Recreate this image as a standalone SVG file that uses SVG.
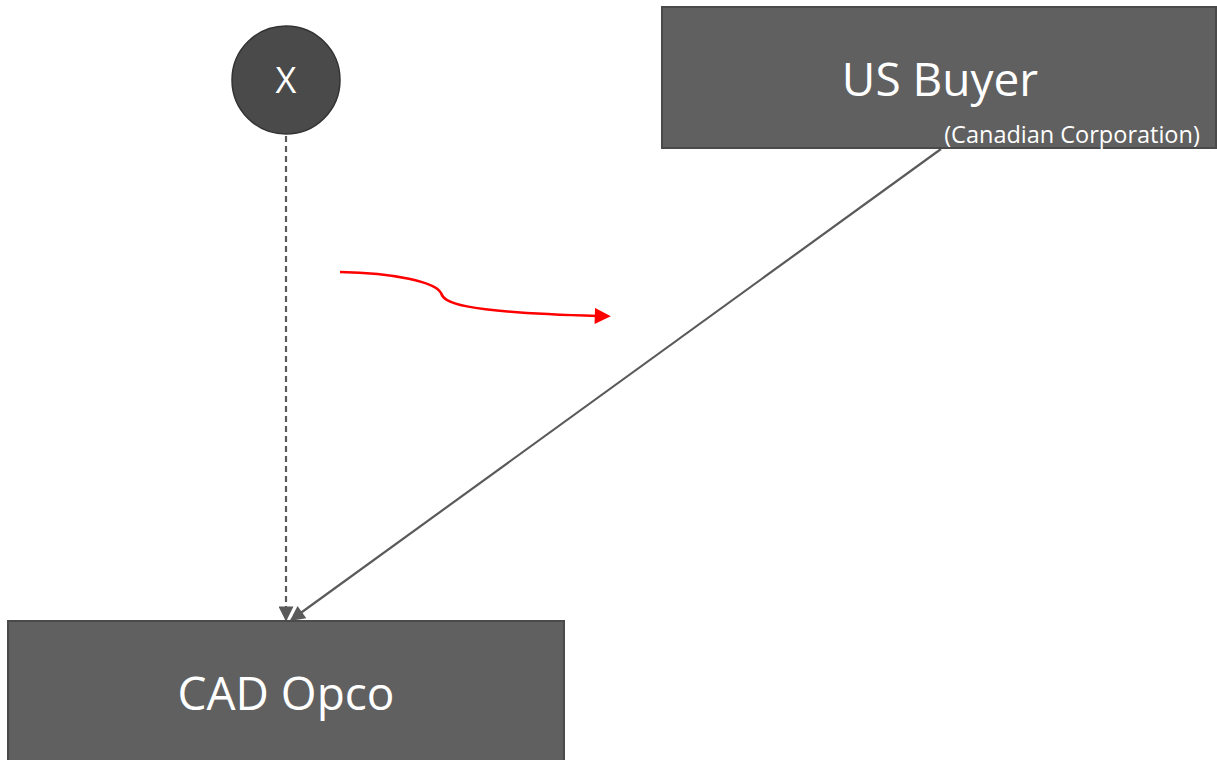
<svg xmlns="http://www.w3.org/2000/svg" width="1217" height="760" viewBox="0 0 1217 760">
  <style>
    .box { fill: #606060; stroke: #4a4a4a; stroke-width: 2; }
    .lbl { font-family: "Open Sans", "Noto Sans", sans-serif; fill: #ffffff; text-anchor: middle; }
    .conn { fill: none; stroke: #5a5a5a; stroke-width: 2.2; }
  </style>
  <defs>
    <marker id="arrowGreyL" viewBox="0 0 10 10" refX="9" refY="5" markerWidth="17" markerHeight="15" markerUnits="userSpaceOnUse" orient="auto">
      <path d="M0,0 L10,5 L0,10 z" fill="#5a5a5a"/>
    </marker>
    <marker id="arrowRed" viewBox="0 0 10 10" refX="2" refY="5" markerWidth="17" markerHeight="16" markerUnits="userSpaceOnUse" orient="auto">
      <path d="M0,0 L10,5 L0,10 z" fill="#ff0000"/>
    </marker>
  </defs>

  <rect width="1217" height="760" fill="#ffffff"/>

  <g id="connectors">
    <!-- dashed ownership line from X down to CAD Opco -->
    <line class="conn" x1="286" y1="136" x2="286" y2="620" stroke-dasharray="6,4" marker-end="url(#arrowGreyL)"/>
    <!-- US Buyer to CAD Opco -->
    <line class="conn" x1="941" y1="149" x2="291" y2="620" marker-end="url(#arrowGreyL)"/>
    <!-- red movement arrow -->
    <path d="M340,272 C395,273 435,282 441,293 C444,302 455,312 598,316" fill="none" stroke="#ff0000" stroke-width="2.5" marker-end="url(#arrowRed)"/>
  </g>

  <g id="node-x">
    <circle cx="286" cy="80" r="54" fill="#4a4a4a" stroke="#333333" stroke-width="1.5"/>
    <text class="lbl" x="286" y="93" font-size="36">X</text>
  </g>

  <g id="node-us-buyer">
    <rect class="box" x="662" y="7" width="554" height="141"/>
    <text class="lbl" x="940" y="96" font-size="46">US Buyer</text>
    <text class="lbl" x="1072" y="143" font-size="23.5">(Canadian Corporation)</text>
  </g>

  <g id="node-cad-opco">
    <rect class="box" x="8" y="621" width="556" height="150"/>
    <text class="lbl" x="286" y="710" font-size="46">CAD Opco</text>
  </g>
</svg>
